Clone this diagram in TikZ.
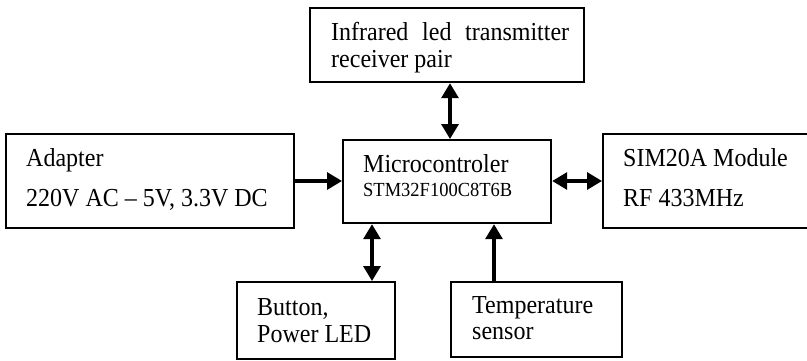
\documentclass[tikz,border=0pt]{standalone}
\usepackage{fontspec}
\setmainfont{Liberation Serif}
\usetikzlibrary{arrows.meta}
\newcommand{\tallt}[1]{\scalebox{1}[1.08]{#1}}
\begin{document}
\begin{tikzpicture}[x=1pt,y=-1pt,
  blk/.style={draw,line width=2.2pt,inner sep=0pt,anchor=north west},
  lbl/.style={anchor=base west,inner sep=0pt,font=\fontsize{24}{28}\selectfont},
  sml/.style={anchor=base west,inner sep=0pt,font=\fontsize{18.5}{22}\selectfont},
  tip/.tip={Triangle[length=15pt,width=17pt]},
  con/.style={line width=3.2pt,-tip},
  bi/.style={line width=3.2pt,tip-tip}]
\clip (0,0) rectangle (807,360);
% boxes
\node[blk,minimum width=274pt,minimum height=74pt] (ir) at (309,7) {};
\node[blk,minimum width=288pt,minimum height=94pt] (ad) at (5,133) {};
\node[blk,minimum width=208pt,minimum height=83pt] (mcu) at (342,139) {};
\node[blk,minimum width=218pt,minimum height=94pt] (sim) at (602,133) {};
\node[blk,minimum width=158pt,minimum height=77pt] (btn) at (236,281) {};
\node[blk,minimum width=171pt,minimum height=75pt] (tmp) at (450,281) {};
% texts
\node[lbl] (t1) at (331,40) {\tallt{\makebox[238pt][s]{Infrared led transmitter}}};
\node[lbl] (t2) at (331,67) {\tallt{receiver pair}};
\node[lbl] (t3) at (26,166) {\tallt{Adapter}};
\node[lbl] (t4) at (26,206) {\tallt{220V AC -- 5V, 3.3V DC}};
\node[lbl] (t5) at (363,172) {\tallt{Microcontroler}};
\node[sml] (t6) at (363,196) {\tallt{STM32F100C8T6B}};
\node[lbl] (t7) at (623,166) {\tallt{SIM20A Module}};
\node[lbl] (t8) at (623,206) {\tallt{RF 433MHz}};
\node[lbl] (t9) at (257,315) {\tallt{Button,}};
\node[lbl] (t10) at (257,342) {\tallt{Power LED}};
\node[lbl] (t11) at (472,313) {\tallt{Temperature}};
\node[lbl] (t12) at (472,339) {\tallt{sensor}};
% connector positions
\coordinate (xir) at (450,0);
\coordinate (xbtn) at (372,0);
\coordinate (xtmp) at (494,0);
\coordinate (ymid) at (0,181);
% connectors
\draw[bi] (ir.south -| xir) -- (mcu.north -| xir);
\draw[con] (ad.east |- ymid) -- (mcu.west |- ymid);
\draw[bi] (mcu.east |- ymid) -- (sim.west |- ymid);
\draw[bi] (btn.north -| xbtn) -- (mcu.south -| xbtn);
\draw[con] (tmp.north -| xtmp) -- (mcu.south -| xtmp);
\end{tikzpicture}
\end{document}
